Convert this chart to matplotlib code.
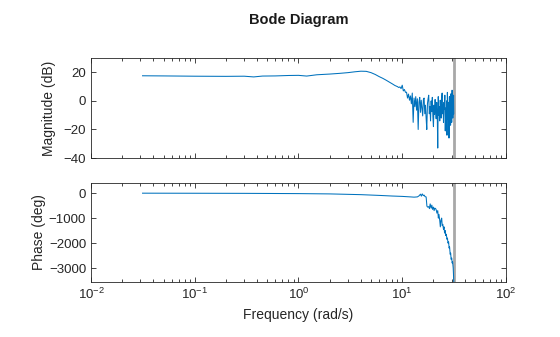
import numpy as np
import matplotlib
matplotlib.use("Agg")
import matplotlib.pyplot as plt
from matplotlib.ticker import LogLocator, NullFormatter

plt.rcParams['font.family'] = ['Liberation Sans', 'DejaVu Sans']
plt.rcParams['mathtext.fontset'] = 'custom'
plt.rcParams['mathtext.rm'] = 'Liberation Sans'
plt.rcParams['mathtext.it'] = 'Liberation Sans'

# magnitude, smooth part (rad/s, dB)
mag_freq_low = [0.0314, 0.05, 0.1, 0.2, 0.3, 0.37, 0.45, 0.6, 0.8, 1.0, 1.2, 1.5,
                2.0, 2.5, 3.0, 3.5, 4.0, 4.5, 5.0, 5.5, 6.0, 6.5, 7.0, 7.5, 8.0, 8.5]
mag_low = [17.6, 17.5, 17.3, 17.2, 17.3, 16.8, 17.4, 17.5, 17.8, 17.9, 17.4, 18.3,
           18.8, 19.3, 19.8, 20.4, 20.8, 20.7, 19.8, 18.5, 17.0, 15.8, 14.5, 13.2, 12.0, 10.8]

# magnitude, noisy part: 4 samples per rad/s from 9.0 to 31.25, then 31.4
mag_freq_high = [9.0, 9.25, 9.5, 9.75, 10.0, 10.25, 10.5, 10.75, 11.0, 11.25, 11.5, 11.75,
                 12.0, 12.25, 12.5, 12.75, 13.0, 13.25, 13.5, 13.75, 14.0, 14.25, 14.5, 14.75,
                 15.0, 15.25, 15.5, 15.75, 16.0, 16.25, 16.5, 16.75, 17.0, 17.25, 17.5, 17.75,
                 18.0, 18.25, 18.5, 18.75, 19.0, 19.25, 19.5, 19.75, 20.0, 20.25, 20.5, 20.75,
                 21.0, 21.25, 21.5, 21.75, 22.0, 22.25, 22.5, 22.75, 23.0, 23.25, 23.5, 23.75,
                 24.0, 24.25, 24.5, 24.75, 25.0, 25.25, 25.5, 25.75, 26.0, 26.25, 26.5, 26.75,
                 27.0, 27.25, 27.5, 27.75, 28.0, 28.25, 28.5, 28.75, 29.0, 29.25, 29.5, 29.75,
                 30.0, 30.25, 30.5, 30.75, 31.0, 31.25, 31.4]
mag_high = [10.0, 9.4, 9.8, 8.6,
            11.0, 7.0, 8.0, 6.0,
            6.1, 2.0, 4.8, 0.5,
            3.5, -2.0, 5.5, -15.0,
            2.0, -4.0, 3.0, -6.5,
            1.5, -20.0, -1.0, 2.5,
            -8.0, 0.5, -5.0, -10.5,
            1.0, 2.0, -9.0, -3.0,
            -12.0, -20.0, -2.0, 1.5,
            4.0, -9.0, -4.0, -14.0,
            0.0, -7.5, 2.5, -11.0,
            -18.0, -3.0, -9.5, 1.0,
            -6.0, -12.5, -1.0, -8.0,
            -33.0, 3.0, -10.0, -4.0,
            -14.0, 0.5, -7.0, -12.0,
            2.0, 5.5, -9.0, -3.0,
            -15.0, -1.0, -6.0, 4.0,
            -21.0, -5.0, -11.0, 0.0,
            -24.0, 6.0, -8.0, -13.0,
            -1.0, -26.0, 3.0, -10.0,
            -4.0, -17.0, 5.0, -7.0,
            -15.0, 7.5, -3.0, -12.0,
            -6.0, 4.0, -9.0]

# phase (rad/s, deg)
phase_freq = [0.0314, 0.1, 0.3, 1.0, 2.0, 4.0, 6.0, 8.0, 10.0, 12.0, 13.0, 14.0, 14.5,
              15.0, 15.3, 15.6, 16.0, 16.3, 16.6, 17.0, 17.3, 17.6, 18.0, 18.3, 18.6,
              19.0, 19.3, 19.6, 20.0, 20.3, 20.6, 21.0, 21.3, 21.6, 22.0, 22.3, 22.6,
              23.0, 23.3, 23.6, 24.0, 24.3, 24.6, 25.0, 25.3, 25.6, 26.0, 26.3, 26.6,
              27.0, 27.3, 27.6, 28.0, 28.3, 28.6, 29.0, 29.3, 29.6, 30.0, 30.3, 30.6,
              31.0, 31.2, 31.4]
phase = [-1, -4, -8, -18, -30, -60, -90, -115, -130, -150, -160, -150, -110,
         -40, -120, -30, -100, -80, -140, -150, -520, -560, -540, -620, -430,
         -600, -480, -650, -560, -700, -600, -620, -680, -800, -700, -1000, -850,
         -1100, -1350, -1100, -1000, -1300, -1250, -1450, -1350, -1600, -1500, -1700, -1650,
         -1850, -1800, -2000, -1950, -2200, -2150, -2450, -2400, -2650, -2600, -2800, -2750,
         -3000, -3250, -3550]

nyquist = 31.4

line_color = '#0072BD'
axis_color = '#262626'

mag_freq = mag_freq_low + mag_freq_high
mag = mag_low + mag_high

fig = plt.figure(figsize=(5.6, 3.37), dpi=100)
ax1 = fig.add_axes([0.1625, 0.531, 0.741, 0.2967])
ax2 = fig.add_axes([0.1625, 0.1632, 0.741, 0.294])

ax1.plot(mag_freq, mag, color=line_color, lw=0.75)
ax2.plot(phase_freq, phase, color=line_color, lw=0.75)

for ax in (ax1, ax2):
    ax.axvline(nyquist, color='#a8a8a8', lw=2.0, zorder=0)
    ax.set_xscale('log')
    ax.set_xlim(1e-2, 1e2)
    ax.xaxis.set_major_locator(LogLocator(base=10, numticks=10))
    ax.xaxis.set_minor_locator(LogLocator(base=10, subs=np.arange(2, 10), numticks=10))
    ax.xaxis.set_minor_formatter(NullFormatter())
    ax.tick_params(which='both', direction='in', top=True, right=True,
                   color=axis_color, labelcolor=axis_color, labelsize=9.5, width=0.6)
    ax.tick_params(which='major', length=3.5)
    ax.tick_params(which='minor', length=2)
    for s in ax.spines.values():
        s.set_color(axis_color)
        s.set_linewidth(0.6)

ax1.set_ylim(-40, 30)
ax1.set_yticks([-40, -20, 0, 20])
ax1.tick_params(labelbottom=False)
ax1.set_ylabel('Magnitude (dB)', fontsize=10, color=axis_color)
ax1.yaxis.set_label_coords(-0.084, 0.5)

ax2.set_ylim(-3560, 410)
ax2.set_yticks([-3000, -2000, -1000, 0])
ax2.set_ylabel('Phase (deg)', fontsize=10, color=axis_color)
ax2.yaxis.set_label_coords(-0.108, 0.5)
ax2.set_xlabel('Frequency (rad/s)', fontsize=10, color=axis_color)

fig.text(0.533, 0.940, 'Bode Diagram', ha='center', va='center',
         fontsize=10.5, fontweight='bold', color='#1a1a1a')

fig.savefig('out.png', dpi=100)
